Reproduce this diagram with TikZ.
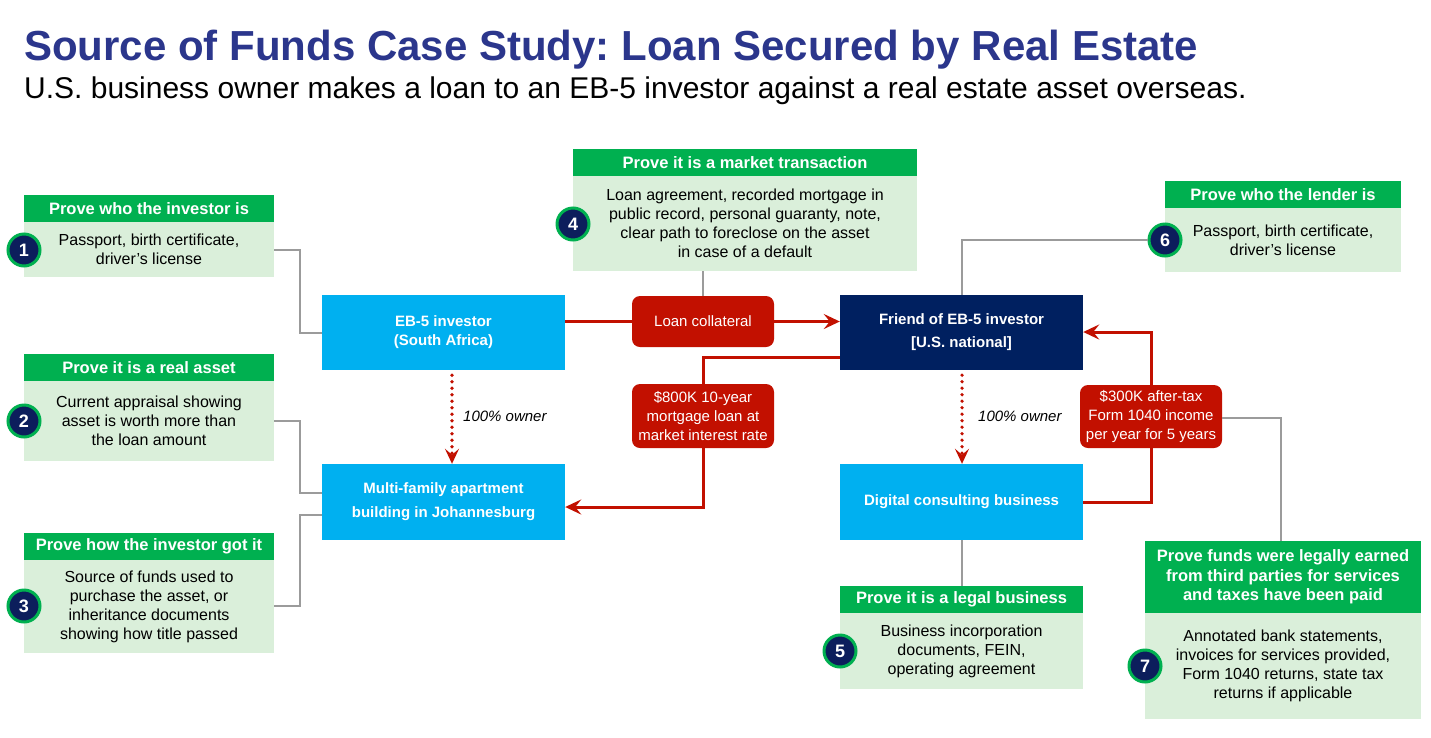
\documentclass[tikz,border=0pt]{standalone}
\usepackage{fontspec}
\setmainfont{Liberation Sans}
\usetikzlibrary{arrows.meta,calc}
\frenchspacing
\definecolor{titleblue}{RGB}{43,54,140}
\definecolor{hgreen}{RGB}{0,176,80}
\definecolor{lgreen}{RGB}{218,239,218}
\definecolor{cnavy}{RGB}{12,30,92}
\definecolor{skyb}{RGB}{0,176,240}
\definecolor{navyb}{RGB}{0,32,96}
\definecolor{redb}{RGB}{194,16,0}
\definecolor{glin}{RGB}{155,155,155}
\tikzset{
  hdr/.style={fill=hgreen, text=white, inner sep=0pt, align=center, font=\fontsize{16.5}{19.5}\selectfont\bfseries},
  bdy/.style={fill=lgreen, text=black, inner sep=0pt, align=center, font=\fontsize{16}{19}\selectfont},
  numc/.style={circle, fill=cnavy, draw=hgreen, line width=3pt, minimum size=32pt, inner sep=0pt, text=white, font=\fontsize{18}{18}\selectfont\bfseries},
  bluebox/.style={fill=skyb, text=white, inner sep=0pt, align=center, minimum width=243pt, font=\fontsize{15}{19}\selectfont\bfseries},
  navybox/.style={fill=navyb, text=white, inner sep=0pt, align=center, minimum width=243pt, minimum height=75pt, font=\fontsize{15}{23}\selectfont\bfseries},
  redbox/.style={fill=redb, text=white, rounded corners=8pt, inner sep=0pt, align=center, minimum width=142pt, font=\fontsize{15}{19}\selectfont},
  gline/.style={draw=glin, line width=2.2pt},
  rline/.style={draw=redb, line width=3pt},
  rarrow/.style={rline, -{Stealth[length=16pt,width=15pt,inset=6pt]}},
  dotarrow/.style={draw=redb, line width=3.6pt, line cap=round, dash pattern=on 0pt off 6.5pt, -{Stealth[length=15pt,width=14pt,inset=6pt,line cap=butt]}},
  lbl/.style={inner sep=0pt, font=\fontsize{15}{18}\selectfont\itshape}
}
\begin{document}
\begin{tikzpicture}[x=1pt,y=-1pt]
\useasboundingbox[fill=white] (0,0) rectangle (1431,737);
% title
\node[anchor=base west, inner sep=0pt, text=titleblue, font=\fontsize{42}{42}\selectfont\bfseries] (title) at (24,60) {Source of Funds Case Study: Loan Secured by Real Estate};
\node[anchor=base west, inner sep=0pt, font=\fontsize{30}{30}\selectfont] (subtitle) at (24,98) {U.S. business owner makes a loan to an EB-5 investor against a real estate asset overseas.};

% evidence boxes
\node[hdr, minimum width=250pt, minimum height=27pt] (h1) at (149,208.5) {Prove who the investor is};
\node[bdy, minimum width=250pt, minimum height=55pt] (b1) at (149,249.5) {Passport, birth certificate,\\driver’s license};
\node[numc] (c1) at (24,250) {1};

\node[hdr, minimum width=250pt, minimum height=27pt] (h2) at (149,367.5) {Prove it is a real asset};
\node[bdy, minimum width=250pt, minimum height=80pt] (b2) at (149,421) {Current appraisal showing\\asset is worth more than\\the loan amount};
\node[numc] (c2) at (24,421) {2};

\node[hdr, minimum width=250pt, minimum height=27pt] (h3) at (149,546.5) {Prove how the investor got it};
\node[bdy, minimum width=250pt, minimum height=93pt] (b3) at (149,606.5) {Source of funds used to\\purchase the asset, or\\inheritance documents\\showing how title passed};
\node[numc] (c3) at (24,606) {3};

\node[hdr, minimum width=344pt, minimum height=27pt] (h4) at (745,162.5) {Prove it is a market transaction};
\node[bdy, minimum width=344pt, minimum height=95pt] (b4) at (745,223.5) {Loan agreement, recorded mortgage in\\public record, personal guaranty, note,\\clear path to foreclose on the asset\\in case of a default};
\node[numc] (c4) at (573,224) {4};

\node[hdr, minimum width=236pt, minimum height=27pt] (h6) at (1283,194.5) {Prove who the lender is};
\node[bdy, minimum width=236pt, minimum height=64pt] (b6) at (1283,240) {Passport, birth certificate,\\driver’s license};
\node[numc] (c6) at (1165,240) {6};

\node[hdr, minimum width=243pt, minimum height=27pt] (h5) at (961.5,599.5) {Prove it is a legal business};
\node[bdy, minimum width=243pt, minimum height=76pt] (b5) at (961.5,651) {Business incorporation\\documents, FEIN,\\operating agreement};
\node[numc] (c5) at (840,651) {5};

\node[hdr, minimum width=276pt, minimum height=72pt] (h7) at (1283,577) {Prove funds were legally earned\\from third parties for services\\and taxes have been paid};
\node[bdy, minimum width=276pt, minimum height=106pt] (b7) at (1283,666) {Annotated bank statements,\\invoices for services provided,\\Form 1040 returns, state tax\\returns if applicable};
\node[numc] (c7) at (1145,666) {7};

% main entities
\node[bluebox, minimum height=75pt] (eb5) at (443.5,332.5) {EB-5 investor\\(South Africa)};
\node[bluebox, minimum height=76pt, font=\fontsize{15}{24}\selectfont\bfseries] (multi) at (443.5,502) {Multi-family apartment\\building in Johannesburg};
\node[navybox] (friend) at (961.5,332.5) {Friend of EB-5 investor\\{[U.S. national]}};
\node[bluebox, minimum height=76pt] (digital) at (961.5,502) {Digital consulting business};

% red labels
\node[redbox, minimum height=51pt] (loan) at (703,321.5) {Loan collateral};
\node[redbox, minimum height=64pt] (m800) at (703,416) {\$800K 10-year\\mortgage loan at\\market interest rate};
\node[redbox, minimum height=63pt] (k300) at (1151,416.5) {\$300K after-tax\\Form 1040 income\\per year for 5 years};

% gray connectors
\draw[gline] (b1.east |- 0,250) -- (300,250) |- (eb5.west |- 0,333);
\draw[gline] (b2.east |- 0,421) -- (300,421) |- (multi.west |- 0,493);
\draw[gline] (b3.east |- 0,606) -- (300,606) |- (multi.west |- 0,515);
\draw[gline] (b4.south -| loan.north) -- (loan.north);
\draw[gline] (c6.west) -| (friend.north -| 962,0);
\draw[gline] (digital.south -| 962,0) -- (h5.north -| 962,0);
\draw[gline] (k300.east |- 0,418) -| (h7.north -| 1281,0);

% red connectors
\draw[rline] (eb5.east |- loan.west) -- (loan.west);
\draw[rarrow] (loan.east) -- (friend.west |- loan.east);
\draw[rline] (friend.west |- 0,357) -| (m800.north);
\draw[rarrow] (m800.south) |- (multi.east |- 0,507);
\draw[rline] (digital.east |- 0,502) -| (k300.south);
\draw[rarrow] (k300.north) |- (friend.east |- 0,332);

% ownership
\draw[dotarrow] (eb5.south -| 452,0) ++(0,5) -- (multi.north -| 452,0);
\draw[dotarrow] (friend.south -| 962,0) ++(0,5) -- (digital.north -| 962,0);
\node[lbl, anchor=west] (own1) at (463,416) {100\% owner};
\node[lbl, anchor=west] (own2) at (978,416) {100\% owner};
\end{tikzpicture}
\end{document}
